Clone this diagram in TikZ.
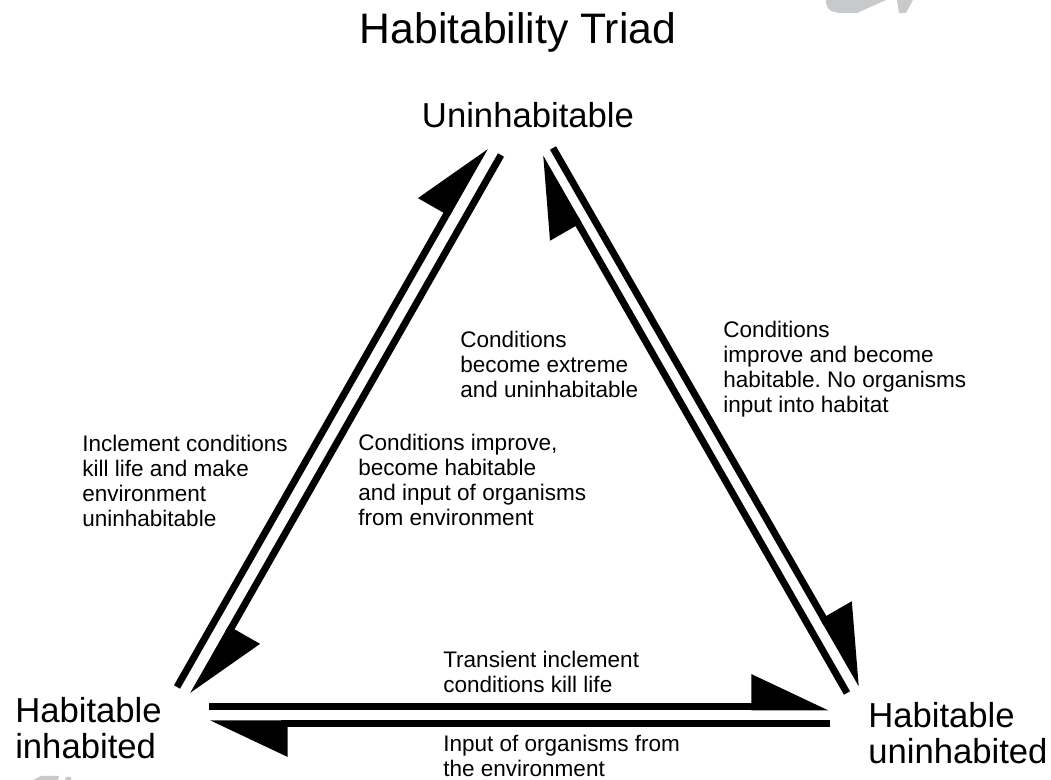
\documentclass[tikz,border=0pt]{standalone}
\usepackage{fontspec}
\setmainfont{Liberation Sans}
\usetikzlibrary{arrows.meta}
\definecolor{markgray}{RGB}{200,201,203}
\frenchspacing

\begin{document}
\begin{tikzpicture}[x=0.75pt,y=0.75pt,yscale=-1,xscale=1,
  bar/.style={line width=5.25pt},
  harp/.style={-{Triangle[left,length=52.5pt,width=48pt]}},
  corner/.style={font=\fontsize{26}{27.5}\selectfont},
  note/.style={font=\fontsize{16.9}{18.9}\selectfont}]
\useasboundingbox (0,0) rectangle (1051,780);

%Shapes (grey marks at the edges)
\fill [markgray] (826,0) .. controls (826,8) and (829,12) .. (840,13) -- (857,13) -- (886,0) -- cycle ;
\fill [markgray] (897,0) -- (913,0) -- (906,13) -- (899,13) -- cycle ;
\fill [markgray] (33,780) -- (41,776) -- (59,776) -- (58,780) -- cycle ;
\fill [markgray] (66,777) -- (71,777) -- (71,780) -- (65,780) -- cycle ;

% Text Node
\draw (518,44) node (title) [anchor=base][inner sep=0pt] {\fontsize{32}{36}\selectfont Habitability Triad};
% Text Node
\draw (528,128) node (uni) [anchor=base][inner sep=0pt] [corner] {Uninhabitable};
% Text Node
\draw (15,696.7) node (inh) [anchor=north west][inner sep=0pt] [align=left] [corner] {Habitable\\inhabited};
% Text Node
\draw (868,701.7) node (hun) [anchor=north west][inner sep=0pt] [align=left] [corner] {Habitable\\uninhabited};

%Straight Lines
\coordinate (pA1) at (177,687);
\coordinate (pA2) at (485,147);
\coordinate (pB1) at (501,155);
\coordinate (pB2) at (193,695);
\draw [bar, harp] (pA1) -- (pA2) ;
\draw [bar, harp] (pB1) -- (pB2) ;
%Straight Lines
\coordinate (pC1) at (847,693);
\coordinate (pC2) at (540,157);
\coordinate (pD1) at (553,148);
\coordinate (pD2) at (862,685);
\draw [bar, harp] (pC1) -- (pC2) ;
\draw [bar, harp] (pD1) -- (pD2) ;
%Straight Lines
\coordinate (pE1) at (209,707);
\coordinate (pE2) at (829,707);
\coordinate (pF1) at (830,724);
\coordinate (pF2) at (210,724);
\draw [bar, harp] (pE1) -- (pE2) ;
\draw [bar, harp] (pF1) -- (pF2) ;

% Text Node
\draw (460,330.6) node (extreme) [anchor=north west][inner sep=0pt] [align=left] [note] {Conditions\\become extreme\\and uninhabitable};
% Text Node
\draw (723,320.6) node (noinput) [anchor=north west][inner sep=0pt] [align=left] [note] {Conditions\\improve and become\\habitable. No organisms\\input into habitat};
% Text Node
\draw (358,433.6) node (improve) [anchor=north west][inner sep=0pt] [align=left] [note] {Conditions improve,\\become habitable\\and input of organisms\\from environment};
% Text Node
\draw (82,434.6) node (inclement) [anchor=north west][inner sep=0pt] [align=left] [note] {Inclement conditions\\kill life and make\\environment\\uninhabitable};
% Text Node
\draw (443,650.6) node (transient) [anchor=north west][inner sep=0pt] [align=left] [note] {Transient inclement\\conditions kill life};
% Text Node
\draw (443,734.6) node (input) [anchor=north west][inner sep=0pt] [align=left] [note] {Input of organisms from\\the environment};

\end{tikzpicture}
\end{document}
